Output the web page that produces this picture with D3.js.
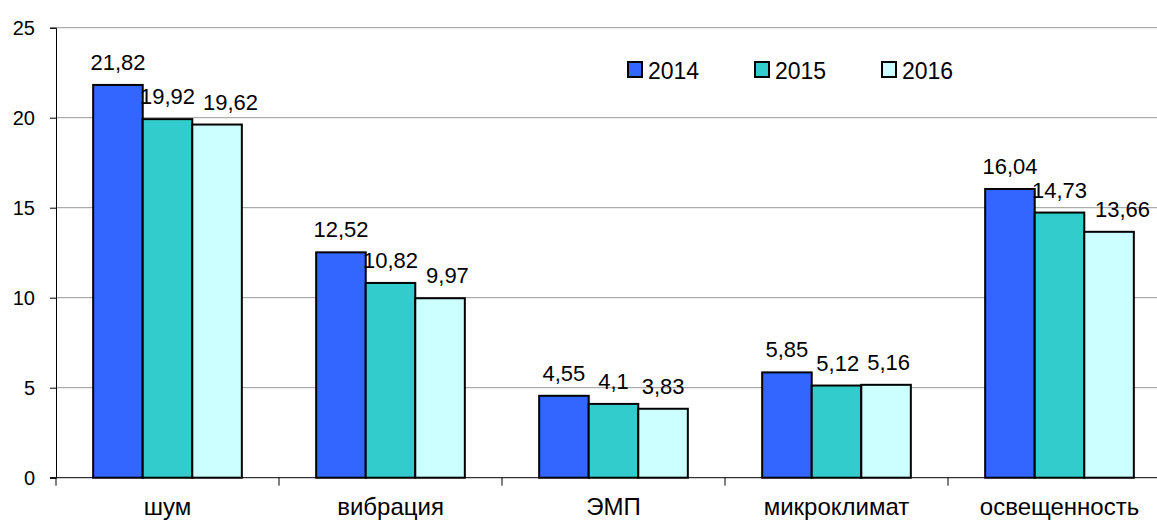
<!DOCTYPE html>
<html><head><meta charset="utf-8">
<script src="https://cdn.jsdelivr.net/npm/d3@7"></script>
<style>body{margin:0;background:#fff;overflow:hidden}svg{display:block}svg text{font-family:"Liberation Sans",Arimo,Arial,sans-serif}</style>
</head><body><svg id="c" width="1157" height="521"></svg>
<script>
const categories = ["шум","вибрация","ЭМП","микроклимат","освещенность"];
const seriesNames = ["2014","2015","2016"];
const v2014 = [21.82,12.52,4.55,5.85,16.04];
const v2015 = [19.92,10.82,4.1,5.12,14.73];
const v2016 = [19.62,9.97,3.83,5.16,13.66];
const colors = ["#3366FF","#33CCCC","#CCFFFF"];
const yTicks = [0,5,10,15,20,25];
const series = [v2014,v2015,v2016];

const svg = d3.select("#c");
const L=56, R=1171, T=27.7, B=477.7;
const x = d3.scaleBand().domain(categories).range([L,R]).paddingInner(0).paddingOuter(0);
const pad = x.bandwidth()/6;
const inner = d3.scaleBand().domain(seriesNames).range([pad, x.bandwidth()-pad]).padding(0);
const y = d3.scaleLinear().domain([0,25]).range([B,T]);

svg.append("g").selectAll("line").data(yTicks.filter(d=>d>0)).join("line")
  .attr("x1",L).attr("x2",1157).attr("y1",d=>y(d)).attr("y2",d=>y(d))
  .attr("stroke","#999").attr("stroke-width",1);

const ya = svg.append("g").attr("transform",`translate(${L},0)`)
  .call(d3.axisLeft(y).tickValues(yTicks).tickSize(6).tickPadding(15));
ya.attr("font-family",null);
ya.select(".domain").attr("stroke","#000");
ya.selectAll(".tick line").attr("stroke","#000");
ya.selectAll("text").attr("font-size",20).attr("fill","#000");

const labelGroups = [];
series.forEach((s,i)=>{
  svg.append("g").selectAll("rect").data(s).join("rect")
    .attr("x",(d,j)=>x(categories[j])+inner(seriesNames[i]))
    .attr("y",d=>y(d)).attr("width",inner.bandwidth()).attr("height",d=>B-y(d))
    .attr("fill",colors[i]).attr("stroke","#000").attr("stroke-width",2);
  labelGroups.push(svg.append("g").selectAll("text").data(s).join("text")
    .attr("x",(d,j)=>x(categories[j])+inner(seriesNames[i])+inner.bandwidth()/2)
    .attr("y",d=>y(d)-15).attr("text-anchor","middle")
    .attr("font-size",22).text(d=>String(d).replace(".",",")));
});
// simple overlap avoidance: shift a label right if it collides with its left neighbour
categories.forEach((c,j)=>{
  for(let i=1;i<series.length;i++){
    const prev = labelGroups[i-1].nodes()[j], cur = labelGroups[i].nodes()[j];
    const pb = prev.getBBox(), cb = cur.getBBox();
    const vOverlap = cb.y < pb.y+pb.height-4 && pb.y < cb.y+cb.height-4;
    const gap = 8;
    if(vOverlap && cb.x < pb.x+pb.width+gap){
      cur.setAttribute("x", +cur.getAttribute("x") + (pb.x+pb.width+gap-cb.x));
    }
  }
});

const xa = svg.append("g").attr("transform",`translate(0,${B})`)
  .call(d3.axisBottom(x).tickSize(0));
xa.attr("font-family",null);
xa.select(".domain").attr("stroke","#000").attr("d",`M${L-6},0H${R}`);
xa.selectAll("text").attr("font-size",24).attr("fill","#000").attr("y",37).attr("dy",0);
svg.append("g").selectAll("line").data(categories.concat(["_end"])).join("line")
  .attr("x1",(d,i)=>L+i*x.bandwidth()).attr("x2",(d,i)=>L+i*x.bandwidth())
  .attr("y1",B).attr("y2",B+8).attr("stroke","#000");

const lg = svg.append("g").selectAll("g").data(seriesNames).join("g")
  .attr("transform",(d,i)=>`translate(${628+i*127},62)`);
lg.append("rect").attr("width",14).attr("height",15).attr("fill",(d,i)=>colors[i]).attr("stroke","#000").attr("stroke-width",2);
lg.append("text").attr("x",20).attr("y",17).attr("font-size",23).text(d=>d);
</script></body></html>
